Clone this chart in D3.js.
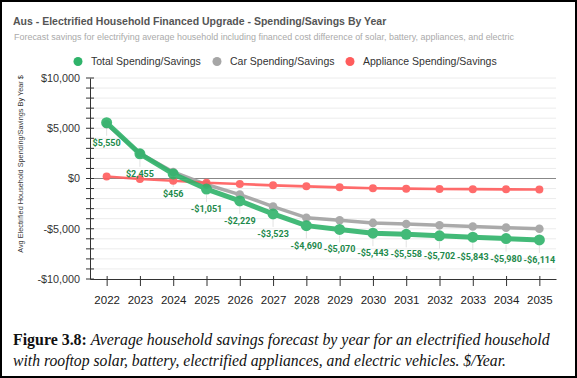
<!DOCTYPE html>
<html><head><meta charset="utf-8">
<script src="https://cdn.jsdelivr.net/npm/d3@7"></script>
<style>
html,body{margin:0;padding:0;background:#fff;}
svg{display:block;}
</style></head>
<body>
<script>
const years = ["2022","2023","2024","2025","2026","2027","2028","2029","2030","2031","2032","2033","2034","2035"];
const totalValues = [5550,2455,456,-1051,-2229,-3523,-4690,-5070,-5443,-5558,-5702,-5843,-5980,-6114];
const carValues = [5400,2500,650,-600,-1600,-2800,-3900,-4150,-4420,-4530,-4660,-4780,-4890,-5000];
const applianceValues = [200,-50,-230,-430,-550,-680,-780,-880,-970,-1010,-1040,-1060,-1080,-1100];
const yTickValues = [-10000,-5000,0,5000,10000];
const seriesNames = ["Total Spending/Savings","Car Spending/Savings","Appliance Spending/Savings"];
const seriesColors = ["#2fb36a","#a6a6a6","#ff5c5c"];

(function(){
const W = 577, H = 378;
const SANS = "'Liberation Sans', Arial, sans-serif";
const svg = d3.select("body").append("svg").attr("width", W).attr("height", H);

svg.append("rect").attr("x",1).attr("y",1).attr("width",W-2).attr("height",H-2)
  .attr("fill","#fff").attr("stroke","#000").attr("stroke-width",2);

svg.append("text").attr("x",13).attr("y",25)
  .attr("font-family",SANS).attr("font-weight","bold")
  .attr("font-size",10.5).attr("fill","#555")
  .text("Aus - Electrified Household Financed Upgrade - Spending/Savings By Year");
svg.append("text").attr("x",14).attr("y",40)
  .attr("font-family",SANS)
  .attr("font-size",8.95).attr("fill","#aaa")
  .text("Forecast savings for electrifying average household including financed cost difference of solar, battery, appliances, and electric");

const legendX = [78,217,350];
seriesNames.forEach((n,i)=>{
  svg.append("circle").attr("cx",legendX[i]).attr("cy",61.5).attr("r",4.5).attr("fill",seriesColors[i]);
  svg.append("text").attr("x",legendX[i]+13).attr("y",65.3)
    .attr("font-family",SANS).attr("font-size",10.5).attr("fill","#333")
    .text(n);
});

const pL = 90, pR = 556, pT = 78, pB = 279;
const x = d3.scalePoint().domain(years).range([pL,pR]).padding(0.5);
const y = d3.scaleLinear().domain([-10000,10000]).range([pB,pT]);

svg.append("g").selectAll("line").data(d3.range(-9000,10001,1000)).join("line")
  .attr("x1",pL).attr("x2",pR).attr("y1",d=>y(d)).attr("y2",d=>y(d))
  .attr("stroke",d=>d===0?"#888":"#ececec").attr("stroke-width",d=>d===0?1.2:1);

const yAxis = d3.axisLeft(y).tickValues(yTickValues).tickFormat(d=>(d<0?"-$":"$")+d3.format(",")(Math.abs(d))).tickSize(0).tickPadding(10);
const ya = svg.append("g").attr("transform",`translate(${pL},0)`).call(yAxis);
ya.select(".domain").attr("stroke","#333");
ya.selectAll("text").attr("font-family",SANS).attr("font-size",10.8).attr("fill","#333");
svg.append("g").selectAll("line").data(d3.range(-10000,10001,1000)).join("line")
  .attr("x1",pL-4).attr("x2",pL+4).attr("y1",d=>y(d)).attr("y2",d=>y(d))
  .attr("stroke","#333").attr("stroke-width",1);

const xAxis = d3.axisBottom(x).tickSizeInner(0).tickSizeOuter(0).tickPadding(17);
const xa = svg.append("g").attr("transform",`translate(0,${pB})`).call(xAxis);
xa.select(".domain").attr("stroke","#333");
xa.selectAll("text").attr("font-family",SANS).attr("font-size",11.5).attr("fill","#222");
xa.selectAll(".tick").append("line").attr("y1",-3).attr("y2",7).attr("stroke","#333");

svg.append("text").attr("transform","translate(23,164) rotate(-90)")
  .attr("text-anchor","middle").attr("font-family",SANS)
  .attr("font-size",7.3).attr("fill","#333")
  .text("Avg Electrified Household Spending/Savings By Year $");

svg.append("g").selectAll("line").data(totalValues).join("line")
  .attr("x1",(d,i)=>x(years[i])).attr("x2",(d,i)=>x(years[i]))
  .attr("y1",d=>y(d)+6).attr("y2",d=>y(d)+13)
  .attr("stroke","#e2e2e2").attr("stroke-width",1);

function drawSeries(vals,color,width,r,op){
  const line = d3.line().x((d,i)=>x(years[i])).y(d=>y(d));
  const gg = svg.append("g").attr("opacity",op);
  gg.append("path").datum(vals).attr("d",line).attr("fill","none")
    .attr("stroke",color).attr("stroke-width",width).attr("stroke-linejoin","round");
  gg.selectAll("circle").data(vals).join("circle")
    .attr("cx",(d,i)=>x(years[i])).attr("cy",d=>y(d)).attr("r",r).attr("fill",color);
}
drawSeries(carValues,seriesColors[1],3.5,4.3,0.95);
drawSeries(applianceValues,seriesColors[2],2.6,4,0.9);
drawSeries(totalValues,seriesColors[0],5,5.5,0.9);

svg.append("g").selectAll("text").data(totalValues).join("text")
  .attr("x",(d,i)=>x(years[i])).attr("y",d=>y(d)+23)
  .attr("text-anchor","middle").attr("font-family","Roboto, Arial, sans-serif")
  .attr("font-weight","bold").attr("font-size",9).attr("fill","#1e8a4c")
  .text(d=>(d<0?"-$":"$")+d3.format(",")(Math.abs(d)));

const SERIF = "'Liberation Serif', 'Times New Roman', serif";
const cap1 = svg.append("text").attr("x",13).attr("y",345)
  .attr("font-family",SERIF).attr("font-size",15.9).attr("fill","#111");
cap1.append("tspan").attr("font-weight","bold").text("Figure 3.8: ");
cap1.append("tspan").attr("font-style","italic").text("Average household savings forecast by year for an electrified household");
svg.append("text").attr("x",13).attr("y",366)
  .attr("font-family",SERIF).attr("font-size",15.7).attr("fill","#111")
  .attr("font-style","italic")
  .text("with rooftop solar, battery, electrified appliances, and electric vehicles. $/Year.");
})();
</script>
</body></html>
